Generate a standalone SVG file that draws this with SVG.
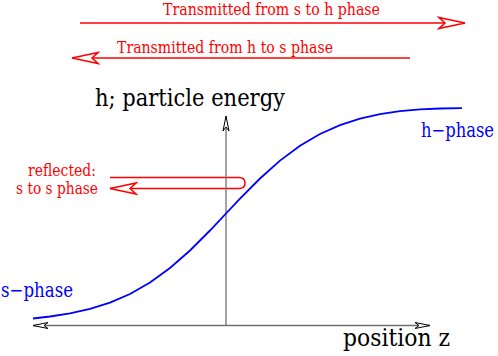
<svg xmlns="http://www.w3.org/2000/svg" width="498" height="356" viewBox="0 0 498 356">
<style>
  .red { fill: #ff0000; }
  .blue { fill: #0000ff; }
  .blk { fill: #000000; }
  .redline { stroke: #ff0000; stroke-width: 1.5; fill: none; }
  .axis { stroke: #707070; stroke-width: 1.3; fill: none; }
  .curve { stroke: #0000ff; stroke-width: 1.8; fill: none; }
</style>
<defs>
  <marker id="redArrow" markerUnits="userSpaceOnUse" viewBox="-28 -8 30 16" markerWidth="30" markerHeight="16" refX="0" refY="0" orient="auto">
    <path d="M0,0 L-26,-5.5 L-20,0 L-26,5.5 Z" fill="#ffffff" stroke="#ff0000" stroke-width="1.5" stroke-linejoin="miter"/>
  </marker>
  <marker id="grayArrow" markerUnits="userSpaceOnUse" viewBox="-18 -5 20 10" markerWidth="20" markerHeight="10" refX="0" refY="0" orient="auto">
    <path d="M0,0 L-15,-3 L-11,0 L-15,3 Z" fill="#ffffff" stroke="#000000" stroke-width="1"/>
  </marker>
</defs>

<g id="connectors">
  <path id="s-to-h" class="redline" d="M80,23 L465,23" marker-end="url(#redArrow)"/>
  <path id="h-to-s" class="redline" d="M410,58 L72,58" marker-end="url(#redArrow)"/>
  <path id="reflected" class="redline" d="M110,177.5 L239,177.5 Q245,177.5 245,183 Q245,188.5 239,188.5 L110,188.5" marker-end="url(#redArrow)"/>
</g>

<g id="axes">
  <path id="z-axis" class="axis" d="M226,325.5 L33,325.5" marker-end="url(#grayArrow)"/>
  <path id="z-axis-right" class="axis" d="M226,325.5 L430,325.5" marker-end="url(#grayArrow)"/>
  <path id="h-axis" class="axis" d="M226,325.5 L226,116" marker-end="url(#grayArrow)"/>
</g>

<g id="curve">
  <path class="curve" d="M33,318.5 L50,316.5 L70,313.4 L90,308.9 L110,302.6 L130,294 L150,282.6 L170,268 L190,250.5 L210,230.5 L226,213.5 L240,198.6 L260,178.5 L280,160.6 L300,145.7 L320,134 L340,125.2 L360,118.7 L380,114.2 L400,111.2 L420,109.4 L440,108.5 L462,108.2"/>
</g>

<g id="labels">
  <text class="red" x="163" y="14.5" font-size="16.5" textLength="217" lengthAdjust="spacingAndGlyphs" font-family="DejaVu Serif, serif">Transmitted from s to h phase</text>
  <text class="red" x="117" y="53" font-size="16.5" textLength="216" lengthAdjust="spacingAndGlyphs" font-family="DejaVu Serif, serif">Transmitted from h to s phase</text>
  <text class="blk" x="95" y="106" font-size="24.5" textLength="190" lengthAdjust="spacingAndGlyphs" font-family="DejaVu Serif, serif">h; particle energy</text>
  <text class="blk" x="343" y="346" font-size="24.5" textLength="107" lengthAdjust="spacingAndGlyphs" font-family="DejaVu Serif, serif">position z</text>
  <text class="blue" x="1" y="297" font-size="20" textLength="72" lengthAdjust="spacingAndGlyphs" font-family="DejaVu Serif, serif">s−phase</text>
  <text class="blue" x="421" y="137" font-size="20" textLength="73" lengthAdjust="spacingAndGlyphs" font-family="DejaVu Serif, serif">h−phase</text>
  <text class="red" x="28" y="175.5" font-size="16.5" textLength="68" lengthAdjust="spacingAndGlyphs" font-family="DejaVu Serif, serif">reflected:</text>
  <text class="red" x="16" y="194.3" font-size="16.5" textLength="82" lengthAdjust="spacingAndGlyphs" font-family="DejaVu Serif, serif">s to s phase</text>
</g>
</svg>
